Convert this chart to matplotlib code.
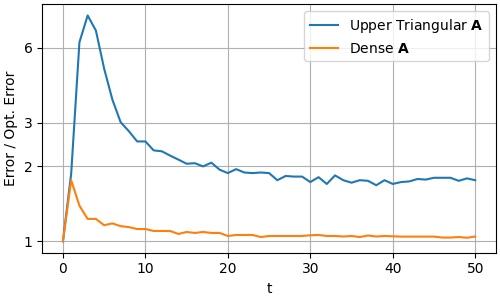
import matplotlib
matplotlib.use("Agg")
import matplotlib.pyplot as plt
from matplotlib.ticker import ScalarFormatter, NullLocator

t = list(range(51))

upper_tri = [1.0, 1.87, 6.31, 8.09, 7.03, 4.94, 3.71, 3.01, 2.77, 2.52,
             2.52, 2.32, 2.30, 2.21, 2.13, 2.05, 2.06, 2.00, 2.07, 1.94,
             1.88, 1.95, 1.89, 1.88, 1.89, 1.88, 1.76, 1.83, 1.82, 1.82,
             1.73, 1.81, 1.70, 1.84, 1.76, 1.72, 1.76, 1.75, 1.68, 1.76,
             1.70, 1.73, 1.74, 1.78, 1.77, 1.80, 1.80, 1.80, 1.75, 1.79,
             1.76]

dense = [1.0, 1.76, 1.39, 1.23, 1.23, 1.16, 1.18, 1.15, 1.14, 1.12,
         1.12, 1.10, 1.10, 1.10, 1.07, 1.09, 1.08, 1.09, 1.08, 1.08,
         1.05, 1.06, 1.06, 1.06, 1.04, 1.05, 1.05, 1.05, 1.05, 1.05,
         1.057, 1.06, 1.05, 1.05, 1.045, 1.05, 1.04, 1.055, 1.045, 1.05,
         1.047, 1.044, 1.044, 1.044, 1.044, 1.044, 1.035, 1.035, 1.04, 1.033,
         1.045]

yticks = [1, 2, 3, 6]

fig, ax = plt.subplots(figsize=(5, 3), dpi=100)
ax.plot(t, upper_tri, label=r"Upper Triangular $\mathbf{A}$")
ax.plot(t, dense, label=r"Dense $\mathbf{A}$")
ax.set_yscale("log")
ax.set_yticks(yticks)
ax.yaxis.set_major_formatter(ScalarFormatter())
ax.yaxis.set_minor_locator(NullLocator())
ax.set_xlabel("t")
ax.set_ylabel("Error / Opt. Error")
ax.grid(True)
ax.legend(loc="upper right")
fig.tight_layout(pad=0.3)
fig.savefig("out.png")
